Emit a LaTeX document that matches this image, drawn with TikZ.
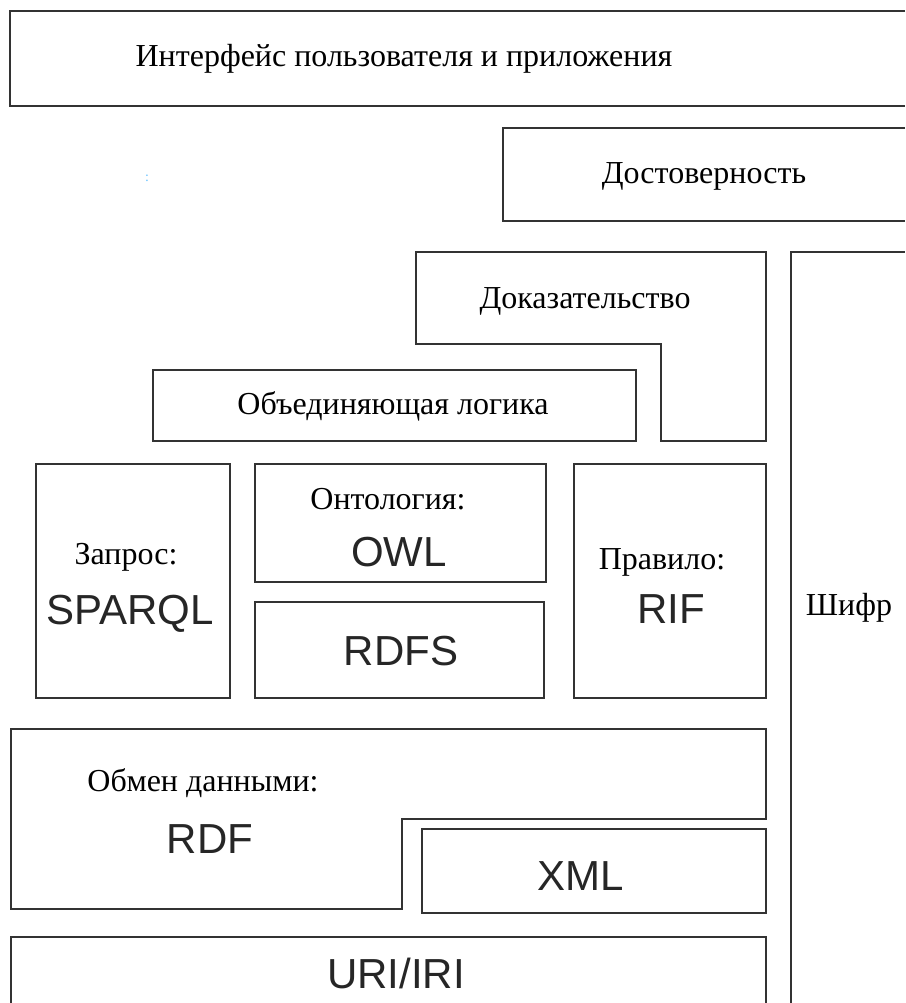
\documentclass[tikz,border=0pt]{standalone}
\usepackage{fontspec}
\setmainfont{Liberation Serif}
\newfontfamily\arialf{Liberation Sans}
\begin{document}
\begin{tikzpicture}[x=1pt,y=-1pt,
  frame/.style={draw=black!80,line width=1.8pt,line join=miter},
  ru/.style={font=\fontsize{32}{35}\selectfont,inner sep=0pt,anchor=base},
  en/.style={font=\arialf\fontsize{42}{46}\selectfont,text=black!85,inner sep=0pt,anchor=base}]
\useasboundingbox[fill=white] (0,0) rectangle (905,1003);
% frames
\draw[frame] (905,11) -- (10,11) -- (10,106) -- (905,106);
\draw[frame] (905,128) -- (503,128) -- (503,221) -- (905,221);
\draw[frame] (791,1003) -- (791,252) -- (905,252);
\draw[frame] (416,252) -- (766,252) -- (766,441) -- (661,441) -- (661,344) -- (416,344) -- cycle;
\draw[frame] (153,370) rectangle (636,441);
\draw[frame] (36,464) rectangle (230,698);
\draw[frame] (255,464) rectangle (546,582);
\draw[frame] (255,602) rectangle (544,698);
\draw[frame] (574,464) rectangle (766,698);
\draw[frame] (11,729) -- (766,729) -- (766,819) -- (402,819) -- (402,909) -- (11,909) -- cycle;
\draw[frame] (422,829) rectangle (766,913);
\draw[frame] (11,1003) -- (11,937) -- (766,937) -- (766,1003);
% texts
\node[ru] (ui) at (404,67) {Интерфейс пользователя и приложения};
\node[font=\fontsize{14}{14}\selectfont,text=blue!40!cyan!60,inner sep=0pt] (dots) at (147,178) {:};
\node[ru] (trust) at (704,183) {Достоверность};
\node[ru] (proof) at (585,308) {Доказательство};
\node[ru] (logic) at (393,414) {Объединяющая логика};
\node[ru] (query) at (126,564) {Запрос:};
\node[en] (sparql) at (130,624) {SPARQL};
\node[ru] (onto) at (388,509) {Онтология:};
\node[en] (owl) at (399,566) {OWL};
\node[en] (rdfs) at (401,665) {RDFS};
\node[ru] (rule) at (662,569) {Правило:};
\node[en] (rif) at (671,623) {RIF};
\node[ru] (crypt) at (849,615) {Шифр};
\node[ru] (exch) at (203,791) {Обмен данными:};
\node[en] (rdf) at (210,853) {RDF};
\node[en] (xml) at (581,890) {XML};
\node[en] (uri) at (396,988) {URI/IRI};
\end{tikzpicture}
\end{document}
